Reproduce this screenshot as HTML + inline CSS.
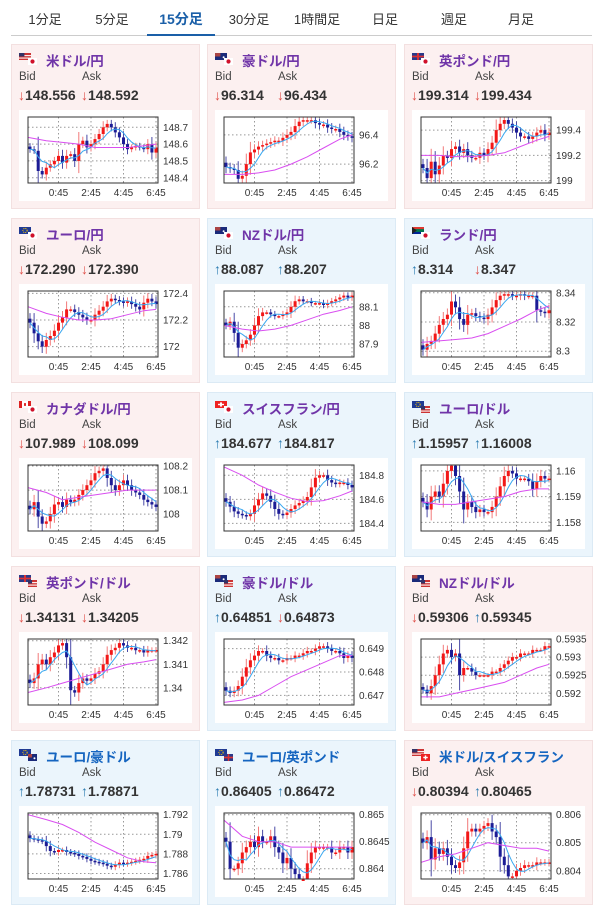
<!DOCTYPE html>
<html><head><meta charset="utf-8">
<style>
body{margin:0;width:600px;height:912px;background:#fff;font-family:"Liberation Sans","Noto Sans CJK JP",sans-serif;position:relative;overflow:hidden}
.tabs{position:absolute;left:0;top:0;width:600px;height:36px}
.tabs .line{position:absolute;left:11px;right:8px;top:35px;height:1px;background:#ccc}
.tab{position:absolute;top:9px;font-size:13px;color:#333;transform:translateX(-50%);white-space:nowrap}
.tab.active{color:#1a5fa8;font-weight:bold;font-size:14px}
.uline{position:absolute;left:147px;width:68px;top:34px;height:2px;background:#1a5fa8}
.card{position:absolute;width:187px;height:163px;border:1px solid}
.pink{background:#fcf0f0;border-color:#f3e0e0}
.blue{background:#ebf5fc;border-color:#dbeaf5}
.title{position:absolute;left:34px;top:5px;font-size:13.5px;font-weight:bold;color:#7035a8;white-space:nowrap}
.title.b{color:#1565c0}
.flag{position:absolute;left:7px;top:8px;width:20px;height:12px}
.lbl{position:absolute;top:26px;font-size:11.5px;color:#444}
.px{position:absolute;top:42px;font-size:14px;font-weight:bold;color:#333;white-space:nowrap}
.dn{color:#e0504a;font-weight:normal}
.up{color:#2a7ab0;font-weight:normal}
.box{position:absolute;left:7px;top:65px;width:173px;height:91px;background:#fff}
.box svg{overflow:visible}
svg text{font-family:"Liberation Sans",sans-serif;font-size:10px;fill:#333}
</style></head><body>
<div class="tabs">
<div class="line"></div>
<div class="tab" style="left:45px">1分足</div>
<div class="tab" style="left:112px">5分足</div>
<div class="tab active" style="left:181px">15分足</div>
<div class="tab" style="left:249px">30分足</div>
<div class="tab" style="left:317px">1時間足</div>
<div class="tab" style="left:385px">日足</div>
<div class="tab" style="left:454px">週足</div>
<div class="tab" style="left:521px">月足</div>
<div class="uline"></div>
</div>
<div id="grid"></div>
<script>
const names=["米ドル/円","豪ドル/円","英ポンド/円","ユーロ/円","NZドル/円","ランド/円","カナダドル/円","スイスフラン/円","ユーロ/ドル","英ポンド/ドル","豪ドル/ドル","NZドル/ドル","ユーロ/豪ドル","ユーロ/英ポンド","米ドル/スイスフラン"];
const bids=["148.556","96.314","199.314","172.290","88.087","8.314","107.989","184.677","1.15957","1.34131","0.64851","0.59306","1.78731","0.86405","0.80394"];
const asks=["148.592","96.434","199.434","172.390","88.207","8.347","108.099","184.817","1.16008","1.34205","0.64873","0.59345","1.78871","0.86472","0.80465"];
const bidDir=["d","d","d","d","u","u","d","u","u","d","u","d","u","u","d"];
const askDir=["d","d","d","d","u","d","d","u","u","d","d","u","u","u","u"];
const flagA=["us","au","gb","eu","nz","za","ca","ch","eu","gb","au","nz","eu","eu","us"];
const flagB=["jp","jp","jp","jp","jp","jp","jp","jp","us","us","us","us","au","gb","ch"];
const timeLabels=["0:45","2:45","4:45","6:45"];
const timeIdx=[7,15,23,31];
const domains=[[148.369,148.761],[96.071,96.522],[198.981,199.504],[171.922,172.418],[87.83,88.185],[8.296,8.3412],[107.93,108.204],[184.337,184.886],[1.157667,1.160227],[1.33927,1.342073],[0.646588,0.649412],[0.591677,0.5935],[1.78544,1.792175],[0.863809,0.865032],[0.803706,0.806061]];
const ticks=[[148.4,148.5,148.6,148.7],[96.2,96.4],[199,199.2,199.4],[172,172.2,172.4],[87.9,88,88.1],[8.3,8.32,8.34],[108,108.1,108.2],[184.4,184.6,184.8],[1.158,1.159,1.16],[1.34,1.341,1.342],[0.647,0.648,0.649],[0.592,0.5925,0.593,0.5935],[1.786,1.788,1.79,1.792],[0.864,0.8645,0.865],[0.804,0.805,0.806]];
const c1=[148.57,148.56,148.44,148.42,148.46,148.48,148.50,148.53,148.49,148.53,148.54,148.50,148.60,148.62,148.58,148.60,148.63,148.66,148.70,148.72,148.70,148.67,148.64,148.60,148.57,148.58,148.59,148.58,148.57,148.60,148.55,148.58];
const c2=[96.18,96.17,96.16,96.10,96.12,96.20,96.28,96.30,96.32,96.33,96.34,96.35,96.36,96.36,96.38,96.40,96.42,96.46,96.49,96.50,96.50,96.50,96.48,96.47,96.47,96.45,96.44,96.44,96.42,96.40,96.39,96.38];
const c3=[199.10,199.02,199.15,199.05,199.12,199.20,199.18,199.25,199.27,199.22,199.25,199.20,199.18,199.18,199.22,199.20,199.25,199.30,199.40,199.45,199.48,199.45,199.42,199.38,199.35,199.35,199.33,199.35,199.38,199.40,199.36,199.38];
const c4=[172.18,172.10,172.04,172.00,172.05,172.08,172.12,172.18,172.22,172.28,172.28,172.26,172.24,172.22,172.20,172.20,172.24,172.27,172.30,172.34,172.36,172.35,172.34,172.33,172.34,172.32,172.30,172.28,172.33,172.36,172.34,172.32];
const c5=[88.00,88.02,87.96,87.88,87.90,87.92,87.95,88.00,88.05,88.07,88.07,88.06,88.05,88.05,88.06,88.07,88.10,88.13,88.14,88.13,88.13,88.12,88.12,88.12,88.11,88.12,88.13,88.14,88.15,88.16,88.15,88.16];
const c6=[8.301,8.305,8.307,8.312,8.318,8.322,8.325,8.334,8.330,8.322,8.318,8.325,8.326,8.324,8.323,8.322,8.325,8.330,8.335,8.338,8.339,8.339,8.338,8.338,8.339,8.338,8.338,8.338,8.328,8.327,8.326,8.328];
const c7=[108.02,108.05,107.99,107.96,107.97,108.00,108.04,108.05,108.03,108.06,108.05,108.06,108.08,108.10,108.12,108.14,108.17,108.18,108.19,108.15,108.12,108.10,108.12,108.14,108.12,108.10,108.09,108.08,108.06,108.05,108.04,108.03];
const c8=[184.58,184.54,184.50,184.48,184.47,184.46,184.48,184.55,184.60,184.65,184.63,184.58,184.52,184.48,184.47,184.49,184.52,184.55,184.57,184.59,184.62,184.70,184.78,184.80,184.80,184.76,184.74,184.73,184.74,184.74,184.72,184.70];
const c9=[1.1588,1.1585,1.1590,1.1592,1.1590,1.1595,1.1600,1.1602,1.1598,1.1592,1.1585,1.1588,1.1586,1.1584,1.1585,1.1584,1.1584,1.1586,1.1590,1.1594,1.1598,1.1600,1.1599,1.1597,1.1597,1.1597,1.1596,1.1593,1.1596,1.1598,1.1597,1.1597];
const c10=[1.3402,1.3404,1.3410,1.3412,1.3410,1.3413,1.3415,1.3418,1.3419,1.3413,1.3399,1.3398,1.3402,1.3404,1.3403,1.3404,1.3406,1.3407,1.3410,1.3414,1.3416,1.3417,1.3419,1.3418,1.3417,1.3417,1.3416,1.3416,1.3415,1.3416,1.3416,1.3416];
const c11=[0.6472,0.6471,0.6472,0.6474,0.6478,0.6482,0.6485,0.6487,0.6489,0.6489,0.6487,0.6486,0.6486,0.6485,0.6485,0.6486,0.6486,0.6487,0.6487,0.6488,0.6489,0.6489,0.6490,0.6491,0.6491,0.6490,0.6489,0.6489,0.6488,0.6486,0.6487,0.6486];
const c12=[0.5921,0.5920,0.5922,0.5925,0.5928,0.5931,0.5932,0.5930,0.5931,0.5925,0.5927,0.5927,0.5926,0.5925,0.5925,0.5925,0.5925,0.5926,0.5926,0.5927,0.5928,0.5929,0.5930,0.5930,0.5931,0.5931,0.5931,0.5932,0.5932,0.5932,0.5933,0.5933];
const c13=[1.7896,1.7895,1.7894,1.7893,1.7888,1.7883,1.7882,1.7884,1.7884,1.7882,1.7881,1.7880,1.7878,1.7877,1.7875,1.7873,1.7872,1.7871,1.7870,1.7868,1.7867,1.7869,1.7871,1.7870,1.7871,1.7872,1.7873,1.7874,1.7875,1.7878,1.7879,1.7880];
const c14=[0.8645,0.8640,0.8640,0.8641,0.8643,0.8644,0.8645,0.8644,0.8646,0.8645,0.8645,0.8646,0.8644,0.8643,0.8641,0.8642,0.8640,0.8639,0.8638,0.8638,0.8641,0.8643,0.8644,0.8644,0.8644,0.8644,0.8643,0.8643,0.8644,0.8644,0.8643,0.8644];
const c15=[0.8050,0.8052,0.8044,0.8048,0.8046,0.8048,0.8045,0.8042,0.8041,0.8043,0.8048,0.8054,0.8055,0.8054,0.8055,0.8056,0.8057,0.8054,0.8052,0.8045,0.8042,0.8038,0.8038,0.8040,0.8041,0.8042,0.8042,0.8042,0.8043,0.8043,0.8043,0.8043];
const closes=[c1,c2,c3,c4,c5,c6,c7,c8,c9,c10,c11,c12,c13,c14,c15];
const maLong=[
[148.64,148.62,148.61,148.60,148.58,148.58,148.58,148.59,148.60],
[96.13,96.13,96.14,96.16,96.20,96.25,96.31,96.37,96.40],
[199.20,199.20,199.19,199.19,199.20,199.22,199.27,199.32,199.35],
[172.30,172.25,172.22,172.20,172.20,172.21,172.24,172.27,172.28],
[88.00,87.98,87.97,87.98,88.00,88.03,88.06,88.08,88.10],
[8.306,8.307,8.308,8.309,8.312,8.317,8.322,8.328,8.331],
[108.11,108.09,108.06,108.07,108.08,108.09,108.10,108.10,108.10],
[184.87,184.80,184.72,184.66,184.61,184.58,184.59,184.63,184.67],
[1.1588,1.1587,1.1587,1.1588,1.1589,1.1590,1.1592,1.1593,1.1593],
[1.3398,1.3400,1.3402,1.3404,1.3406,1.3408,1.3410,1.3411,1.3412],
[0.6467,0.6468,0.6470,0.6474,0.6478,0.6481,0.6484,0.6487,0.6487],
[0.5919,0.5919,0.5920,0.5921,0.5922,0.5923,0.5925,0.5927,0.5928],
[1.7920,1.7915,1.7910,1.7902,1.7892,1.7884,1.7876,1.7872,1.7871],
[0.8649,0.8646,0.8645,0.8645,0.8644,0.8644,0.8644,0.8644,0.8644],
[0.8043,0.8045,0.8046,0.8048,0.8050,0.8049,0.8048,0.8048,0.8047]];
const maIdx=[0,4,8,12,16,20,24,28,31];

const NS="http://www.w3.org/2000/svg";
function flagSvg(code,x,y,w,h){
  let s='';
  if(code==='us') s=`<rect x="${x}" y="${y}" width="${w}" height="${h}" fill="#c33"/><rect x="${x}" y="${y+h*0.3}" width="${w}" height="${h*0.15}" fill="#fff"/><rect x="${x}" y="${y+h*0.65}" width="${w}" height="${h*0.15}" fill="#fff"/><rect x="${x}" y="${y}" width="${w*0.45}" height="${h*0.5}" fill="#336"/>`;
  else if(code==='jp') s=`<rect x="${x}" y="${y}" width="${w}" height="${h}" fill="#fff"/><circle cx="${x+w/2}" cy="${y+h/2}" r="${h*0.3}" fill="#d0112b"/>`;
  else if(code==='au'||code==='nz') s=`<rect x="${x}" y="${y}" width="${w}" height="${h}" fill="#1a2a7a"/><rect x="${x}" y="${y}" width="${w*0.45}" height="${h*0.5}" fill="#a44"/><circle cx="${x+w*0.72}" cy="${y+h*0.6}" r="1" fill="#fff"/>`;
  else if(code==='gb') s=`<rect x="${x}" y="${y}" width="${w}" height="${h}" fill="#2a3a8a"/><rect x="${x}" y="${y+h*0.38}" width="${w}" height="${h*0.24}" fill="#d33"/><rect x="${x+w*0.42}" y="${y}" width="${w*0.16}" height="${h}" fill="#d33"/>`;
  else if(code==='eu') s=`<rect x="${x}" y="${y}" width="${w}" height="${h}" fill="#1f3a93"/><circle cx="${x+w/2}" cy="${y+h/2}" r="${h*0.3}" fill="none" stroke="#fc0" stroke-width="1" stroke-dasharray="1 1"/>`;
  else if(code==='za') s=`<rect x="${x}" y="${y}" width="${w}" height="${h}" fill="#007a4d"/><rect x="${x}" y="${y}" width="${w}" height="${h*0.3}" fill="#de3831"/><rect x="${x}" y="${y+h*0.7}" width="${w}" height="${h*0.3}" fill="#002395"/><polygon points="${x},${y} ${x+w*0.4},${y+h/2} ${x},${y+h}" fill="#222"/>`;
  else if(code==='ca') s=`<rect x="${x}" y="${y}" width="${w}" height="${h}" fill="#fff"/><rect x="${x}" y="${y}" width="${w*0.25}" height="${h}" fill="#d22"/><rect x="${x+w*0.75}" y="${y}" width="${w*0.25}" height="${h}" fill="#d22"/><rect x="${x+w*0.42}" y="${y+h*0.3}" width="${w*0.16}" height="${h*0.4}" fill="#d22"/>`;
  else if(code==='ch') s=`<rect x="${x}" y="${y}" width="${w}" height="${h}" fill="#e22"/><rect x="${x+w*0.42}" y="${y+h*0.2}" width="${w*0.16}" height="${h*0.6}" fill="#fff"/><rect x="${x+w*0.25}" y="${y+h*0.4}" width="${w*0.5}" height="${h*0.2}" fill="#fff"/>`;
  return s;
}
const grid=document.getElementById('grid');
const cols=[11,207,404];
for(let k=0;k<15;k++){
  const r=Math.floor(k/3), col=k%3;
  const card=document.createElement('div');
  card.className='card '+(bidDir[k]==='u'?'blue':'pink');
  card.style.left=cols[col]+'px'; card.style.top=(44+174*r)+'px';
  
  
  const arr=d=>d==='u'?'<span class="up">↑</span>':'<span class="dn">↓</span>';
  card.innerHTML=`<svg class="flag" viewBox="0 0 20 12">${flagSvg(flagA[k],0,0,12,7)}${flagSvg(flagB[k],9,5,9,7)}</svg>
<div class="title${r===4?' b':''}">${names[k]}</div>
<div class="lbl" style="left:7px">Bid</div>
<div class="lbl" style="left:70px">Ask</div>
<div class="px" style="left:6px">${arr(bidDir[k])}${bids[k]}</div>
<div class="px" style="left:69px">${arr(askDir[k])}${asks[k]}</div>
<div class="box"></div>`;
  grid.appendChild(card);
  const box=card.querySelector('.box');
  const svg=document.createElementNS(NS,'svg');
  svg.setAttribute('width','173');svg.setAttribute('height','91');
  
  
  box.appendChild(svg);
  const X0=9,X1=139,Y0=7,Y1=73;
  const [lo,hi]=domains[k];
  const y=v=>Y1-(v-lo)/(hi-lo)*(Y1-Y0);
  const cl=closes[k], n=cl.length;
  const x=i=>X0+(i+0.5)*(X1-X0)/n;
  let h='';
  ticks[k].forEach(t=>{const yy=y(t).toFixed(1);h+=`<line x1="${X0}" x2="${X1}" y1="${yy}" y2="${yy}" stroke="#999" stroke-dasharray="1.5 2.5"/><text x="${X1+5}" y="${(+yy+3.5).toFixed(1)}">${t}</text>`;});
  timeIdx.forEach((ti,j)=>{const xx=x(ti).toFixed(1);h+=`<line x1="${xx}" x2="${xx}" y1="${Y0}" y2="${Y1}" stroke="#999" stroke-dasharray="1.5 2.5"/><text x="${xx}" y="86" text-anchor="middle">${timeLabels[j]}</text>`;});
  const step=(ticks[k][1]-ticks[k][0]);
  for(let i=0;i<n;i++){
    const o=i?cl[i-1]:cl[0]+step*0.15, c=cl[i];
    const up=c>=o, col2=up?'#f21818':'#1c1c96', wcol=up?'#f27a7a':'#4a4aa6';
    const w=Math.abs(c-o)*0.6+step*0.12;
    const hv=Math.max(o,c)+w, lv=Math.min(o,c)-w;
    const xx=x(i);
    const yt=y(Math.max(o,c)), yb=y(Math.min(o,c));
    h+=`<line x1="${xx.toFixed(1)}" x2="${xx.toFixed(1)}" y1="${Math.max(Y0,y(hv)).toFixed(1)}" y2="${Math.min(Y1,y(lv)).toFixed(1)}" stroke="${wcol}" stroke-width="1"/>`;
    h+=`<rect x="${(xx-1.5).toFixed(1)}" y="${yt.toFixed(1)}" width="3" height="${Math.max(1.5,yb-yt).toFixed(1)}" fill="${col2}"/>`;
  }
  let pts=[];
  for(let i=0;i<n;i++){let s=0,m=0;for(let j=Math.max(0,i-4);j<=i;j++){s+=cl[j];m++;}pts.push(x(i).toFixed(1)+','+y(s/m).toFixed(1));}
  h+=`<polyline points="${pts.join(' ')}" fill="none" stroke="#3aa8f0" stroke-width="1"/>`;
  const lp=maLong[k].map((v,j)=>(maIdx[j]===0?X0:x(maIdx[j])).toFixed(1)+','+y(v).toFixed(1));
  h+=`<polyline points="${lp.join(' ')}" fill="none" stroke="#d94ef0" stroke-width="1"/>`;
  h+=`<rect x="${X0}" y="${Y0}" width="${X1-X0}" height="${Y1-Y0}" fill="none" stroke="#333" stroke-width="1"/>`;
  svg.innerHTML=h;
}
</script>
</body></html>
